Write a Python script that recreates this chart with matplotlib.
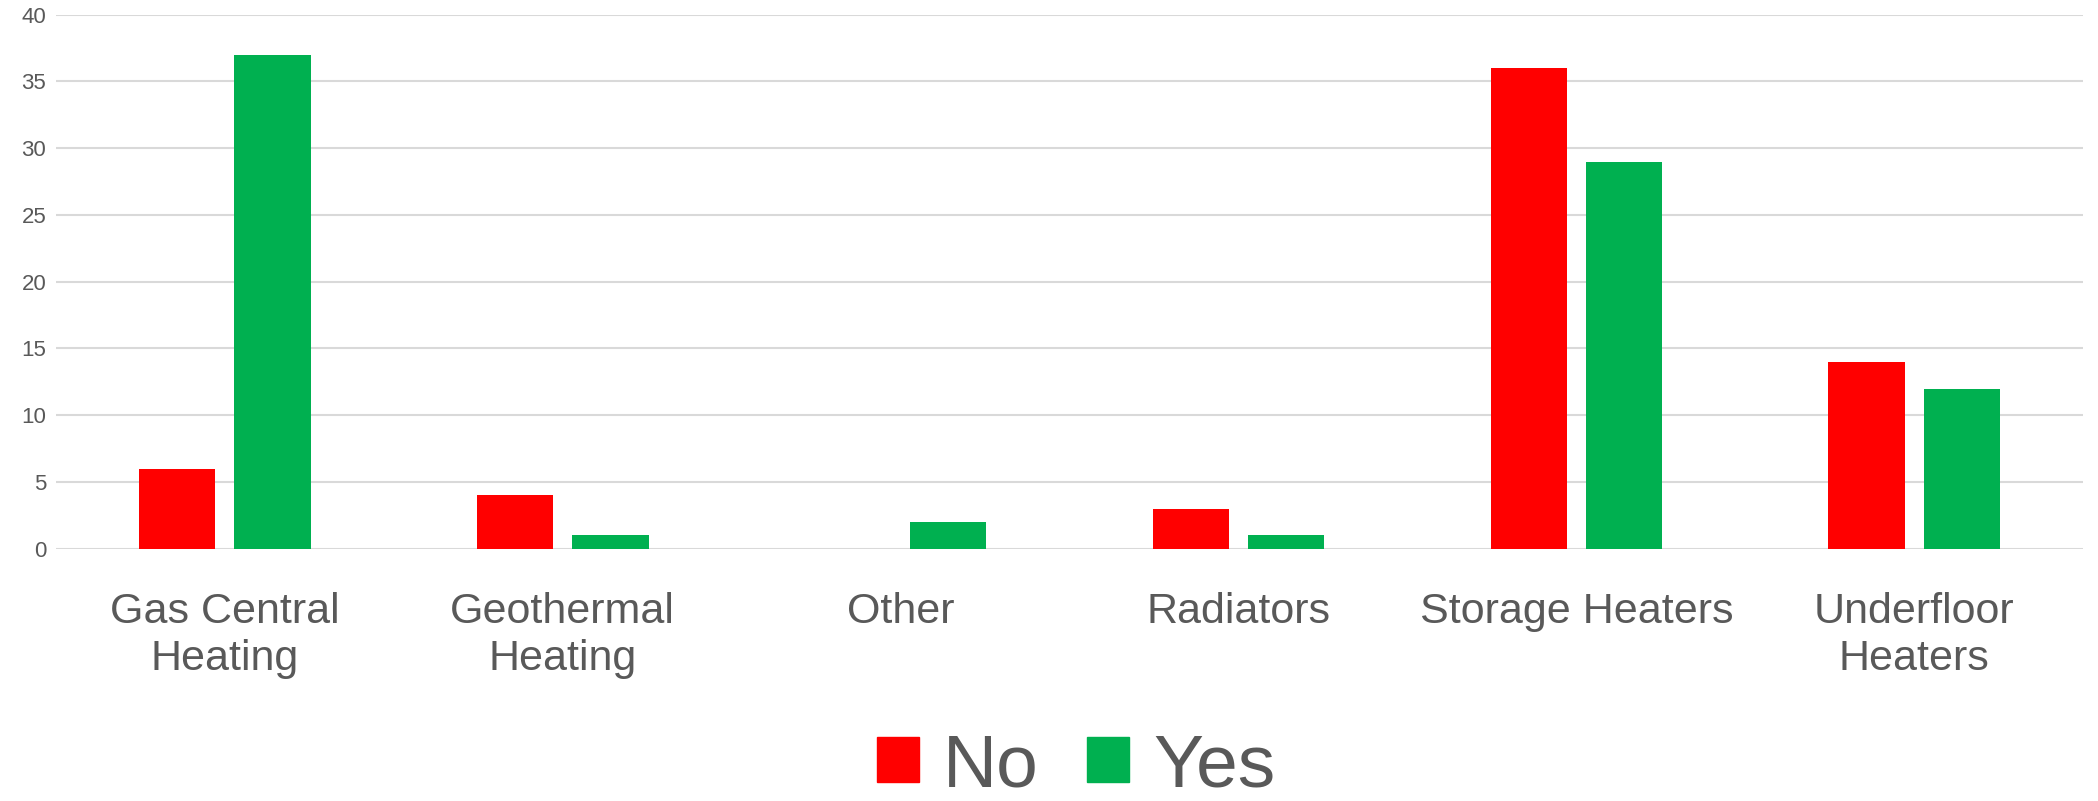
import numpy as np
import matplotlib.pyplot as plt
from matplotlib.patches import Patch

plt.rcParams['font.family'] = ['Liberation Sans', 'DejaVu Sans']

categories = ["Gas Central\nHeating", "Geothermal\nHeating", "Other", "Radiators",
              "Storage Heaters", "Underfloor\nHeaters"]
no_vals = [6, 4, 0, 3, 36, 14]
yes_vals = [37, 1, 2, 1, 29, 12]
yticks = [0, 5, 10, 15, 20, 25, 30, 35, 40]

red = "#ff0000"
green = "#00b050"
txt = "#595959"

fig = plt.figure(figsize=(20.98, 8.01), dpi=100)
ax = fig.add_axes([0.0267, 0.315, 0.9662, 0.6666])

x = np.arange(len(categories))
w = 0.226
off = 0.141
ax.bar(x - off, no_vals, width=w, color=red, zorder=3)
ax.bar(x + off, yes_vals, width=w, color=green, zorder=3)

ax.set_xlim(-0.5, len(categories) - 0.5)
ax.set_ylim(0, 40)
ax.set_yticks(yticks)
ax.yaxis.grid(True, color="#d9d9d9", linewidth=1.5, zorder=0)
ax.set_axisbelow(True)
for s in ax.spines.values():
    s.set_visible(False)
ax.tick_params(axis='y', length=0, pad=7, labelsize=16, labelcolor=txt)
ax.tick_params(axis='x', length=0, pad=31, labelsize=31, labelcolor=txt)
ax.set_xticks(x)
ax.set_xticklabels(categories, linespacing=1.25)

handles = [Patch(color=red, label="No"), Patch(color=green, label="Yes")]
leg = fig.legend(handles=handles, loc="center", bbox_to_anchor=(0.513, 0.043), ncol=2,
                 frameon=False, fontsize=54, handlelength=0.56, handleheight=0.56,
                 handletextpad=0.32, columnspacing=0.65, borderpad=0)
for t in leg.get_texts():
    t.set_color(txt)

fig.savefig("out.png", dpi=100)
